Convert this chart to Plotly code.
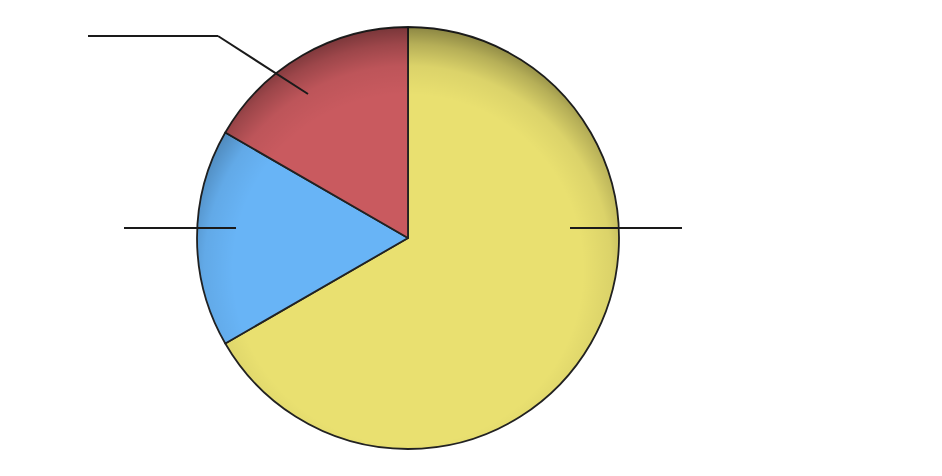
import base64
import plotly.graph_objects as go

# Data
labels = ["Yellow", "Blue", "Red"]
values = [4, 1, 1]
colors = ["#E9E070", "#68B4F6", "#C95A5F"]

W, H = 942, 476
OFF = 8  # page body margin
# pie geometry in pixels (center and radius)
CX, CY, R = 408, 238, 211

def px(x):
    return (x - OFF) / W

def py(y):
    return 1 - (y - OFF) / H

fig = go.Figure()
fig.add_trace(go.Pie(
    labels=labels,
    values=values,
    sort=False,
    direction="clockwise",
    rotation=0,
    textinfo="none",
    marker=dict(colors=colors, line=dict(color="#222222", width=1.8)),
    domain=dict(x=[px(CX - R), px(CX + R)], y=[py(CY + R), py(CY - R)]),
    showlegend=False,
))

# radial inner-shadow overlay (darker towards the rim, strongest at the top)
svg = f'''<svg xmlns="http://www.w3.org/2000/svg" width="{2*R}" height="{2*R}" viewBox="0 0 {2*R} {2*R}">
<defs><radialGradient id="g" gradientUnits="userSpaceOnUse" cx="{R}" cy="{R*1.15}" r="{R*1.15}">
<stop offset="0" stop-color="#000" stop-opacity="0"/>
<stop offset="0.72" stop-color="#000" stop-opacity="0"/>
<stop offset="0.84" stop-color="#000" stop-opacity="0.06"/>
<stop offset="0.93" stop-color="#000" stop-opacity="0.22"/>
<stop offset="1" stop-color="#000" stop-opacity="0.40"/>
</radialGradient></defs>
<circle cx="{R}" cy="{R}" r="{R}" fill="url(#g)"/>
</svg>'''
src = "data:image/svg+xml;base64," + base64.b64encode(svg.encode()).decode()
fig.add_layout_image(dict(
    source=src, xref="paper", yref="paper",
    x=px(CX - R), y=py(CY - R), sizex=2 * R / W, sizey=2 * R / H,
    sizing="stretch", xanchor="left", yanchor="top", layer="above",
))

# leader lines
line_style = dict(color="#1a1a1a", width=2)
def seg(x0, y0, x1, y1):
    fig.add_shape(type="line", xref="paper", yref="paper",
                  x0=px(x0), y0=py(y0), x1=px(x1), y1=py(y1), line=line_style)

seg(570, 228, 682, 228)
seg(124, 228, 236, 228)
seg(308, 94, 218, 36)
seg(218, 36, 88, 36)

fig.update_layout(
    width=W, height=H,
    margin=dict(l=0, r=0, t=0, b=0),
    paper_bgcolor="white",
    plot_bgcolor="white",
)

fig.write_html("out.html")
